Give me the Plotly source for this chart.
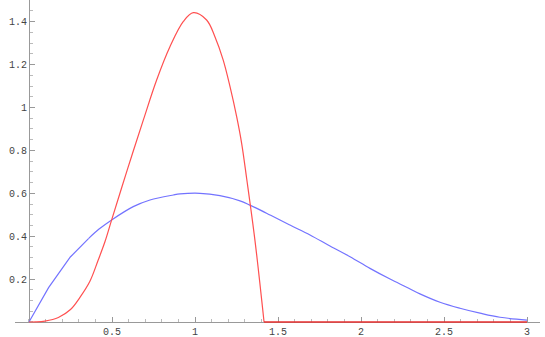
import plotly.graph_objects as go

# blue curve (straight pieces near the origin)
blue_x = [0, 0.118, 0.249, 0.36, 0.42, 0.498, 0.628, 0.729, 0.869, 0.91, 1.03, 1.15,
          1.271, 1.331, 1.452, 1.572, 1.693, 1.813, 1.934, 2.054, 2.175, 2.275, 2.355,
          2.476, 2.596, 2.717, 2.837, 3.0]
blue_y = [0, 0.16, 0.303, 0.39, 0.432, 0.476, 0.538, 0.569, 0.592, 0.597, 0.600, 0.589,
          0.565, 0.545, 0.499, 0.452, 0.406, 0.354, 0.304, 0.25, 0.2, 0.162, 0.131,
          0.092, 0.064, 0.041, 0.022, 0.009]

# red curve
red_x = [0, 0.04, 0.096, 0.177, 0.25, 0.307, 0.367, 0.417, 0.458, 0.498, 0.592, 0.689,
         0.769, 0.849, 0.93, 0.99, 1.07, 1.12, 1.17, 1.211, 1.251, 1.281, 1.311, 1.361,
         1.416, 2.0, 2.5, 3.0]
red_y = [0, 0.0003, 0.004, 0.021, 0.058, 0.115, 0.19, 0.289, 0.375, 0.476, 0.709, 0.942,
         1.128, 1.283, 1.401, 1.442, 1.408, 1.33, 1.221, 1.097, 0.957, 0.833, 0.67, 0.382,
         0, 0, 0, 0]

x_ticks = [0.5, 1, 1.5, 2, 2.5, 3]
y_ticks = [0.2, 0.4, 0.6, 0.8, 1, 1.2, 1.4]

cut = red_x.index(1.416) + 1

fig = go.Figure()
fig.add_trace(go.Scatter(x=blue_x[:4], y=blue_y[:4], mode="lines",
                         line=dict(color="#7373ff", width=1.2)))
fig.add_trace(go.Scatter(x=blue_x[3:], y=blue_y[3:], mode="lines",
                         line=dict(color="#7373ff", width=1.2), line_shape="spline"))
fig.add_trace(go.Scatter(x=red_x[:cut], y=red_y[:cut], mode="lines",
                         line=dict(color="#ff5050", width=1.2), line_shape="spline"))
fig.add_trace(go.Scatter(x=red_x[cut - 1:], y=red_y[cut - 1:], mode="lines",
                         line=dict(color="#e83030", width=1.5)))

tickfont = dict(family="Liberation Mono, Courier New, monospace", size=10, color="#444")

fig.update_layout(
    width=545, height=337,
    margin=dict(l=15, r=5, t=0, b=14),
    plot_bgcolor="white", paper_bgcolor="white",
    showlegend=False,
    xaxis=dict(range=[-0.0843, 3.0783], tickvals=x_ticks, showgrid=False, zeroline=False,
               showline=True, linecolor="#999", linewidth=1, anchor="free", position=0.0031,
               automargin=False,
               ticks="inside", ticklen=5, tickcolor="#999", tickfont=tickfont,
               minor=dict(dtick=0.1, tick0=0, ticks="inside", ticklen=3, tickcolor="#bbb"),
               layer="below traces"),
    yaxis=dict(range=[-0.0047, 1.5012], tickvals=y_ticks, showgrid=False, zeroline=False,
               showline=True, linecolor="#999", linewidth=1, anchor="free", position=0.02667,
               automargin=False,
               ticks="inside", ticklen=5, tickcolor="#999", tickfont=tickfont,
               minor=dict(dtick=0.05, tick0=0, ticks="inside", ticklen=3, tickcolor="#bbb"),
               layer="below traces"),
)

fig.write_html("out.html", config={"displayModeBar": False},
               post_script="document.body.style.margin='0';")
